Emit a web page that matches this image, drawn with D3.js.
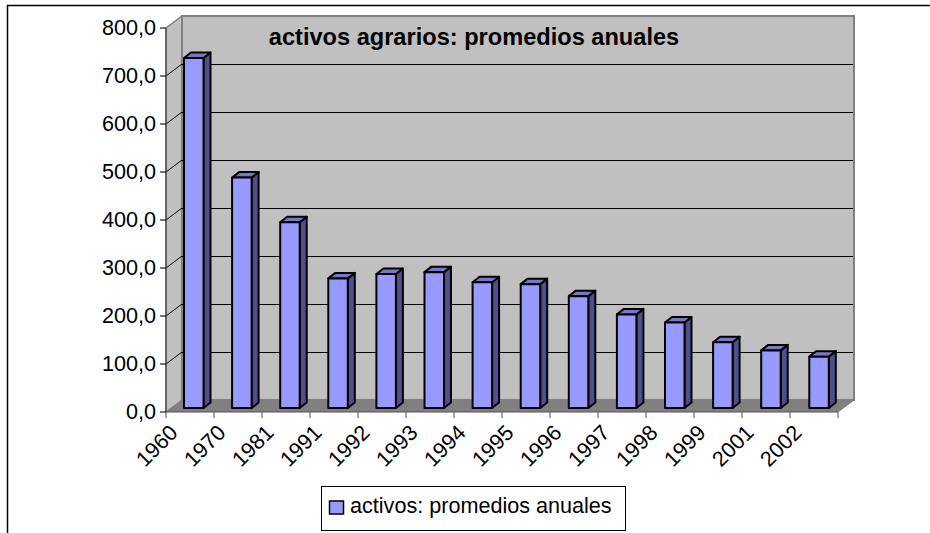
<!DOCTYPE html>
<html>
<head>
<meta charset="utf-8">
<script src="https://cdn.jsdelivr.net/npm/d3@7"></script>
<style>
  html, body { margin: 0; padding: 0; background: #fff; }
  svg { display: block; }
  text { font-family: "Liberation Sans", Arial, sans-serif; fill: #000; }
</style>
</head>
<body>
<div id="chart"></div>
<script>
const years = ['1960', '1970', '1981', '1991', '1992', '1993', '1994', '1995', '1996', '1997', '1998', '1999', '2001', '2002']
const activos = [729, 480, 387, 270, 279, 283, 262, 258, 233, 195, 178, 137, 120, 107]
const yTicks = [0, 100, 200, 300, 400, 500, 600, 700, 800]
const titleText = 'activos agrarios: promedios anuales'
const legendText = 'activos: promedios anuales'

const width = 930
const height = 533
const depthX = 16
const depthY = 12

const svg = d3.select('#chart').append('svg')
    .attr('width', width)
    .attr('height', height)

const x = d3.scaleBand().domain(years).range([166, 838])
// bars sit on the middle of the floor, a bit further apart than the ticks
const xBar = d3.scaleBand().domain(years).range([184, 857.4])
const y = d3.scaleLinear().domain([0, 800]).range([412, 28])

const poly = pts => pts.map(p => p.join(',')).join(' ')
const x0 = x.range()[0], x1 = x.range()[1]
const y0 = y(0), yTop = y(800)

// outer frame, only top and left are inside the picture
svg.append('path')
    .attr('d', `M7.5,${height}V5.5H${width}`)
    .attr('fill', 'none')
    .attr('stroke', '#000')
    .attr('stroke-width', 1.5)

// walls and floor
svg.append('polygon')
    .attr('points', poly([[x0, y0], [x0 + depthX, y0 - depthY], [x0 + depthX, yTop - depthY], [x0, yTop]]))
    .attr('fill', '#c0c0c0').attr('stroke', '#808080').attr('stroke-width', 1.5)
svg.append('rect')
    .attr('x', x0 + depthX).attr('y', yTop - depthY)
    .attr('width', x1 - x0).attr('height', y0 - yTop)
    .attr('fill', '#c0c0c0').attr('stroke', '#808080').attr('stroke-width', 2)
svg.append('polygon')
    .attr('points', poly([[x0, y0], [x1, y0], [x1 + depthX, y0 - depthY], [x0 + depthX, y0 - depthY]]))
    .attr('fill', '#808080')

// gridlines
yTicks.slice(1, -1).forEach(t => {
    svg.append('line')
        .attr('x1', x0 + depthX).attr('x2', x1 + depthX - 1)
        .attr('y1', y(t) - depthY + 0.5).attr('y2', y(t) - depthY + 0.5)
        .attr('stroke', '#000').attr('stroke-width', 1)
})
yTicks.slice(1, -1).forEach(t => {
    svg.append('line')
        .attr('x1', x0).attr('x2', x0 + depthX)
        .attr('y1', y(t)).attr('y2', y(t) - depthY)
        .attr('stroke', '#000').attr('stroke-width', 1)
})

// axes
svg.append('line').attr('x1', x0).attr('x2', x0).attr('y1', yTop).attr('y2', y0)
    .attr('stroke', '#444').attr('stroke-width', 1.2)
svg.append('line').attr('x1', x0).attr('x2', x1).attr('y1', y0).attr('y2', y0)
    .attr('stroke', '#555').attr('stroke-width', 1.2)
svg.append('line').attr('x1', x1).attr('x2', x1 + depthX).attr('y1', y0).attr('y2', y0 - depthY)
    .attr('stroke', '#808080').attr('stroke-width', 1)

svg.selectAll('.ytick').data(yTicks).join('line')
    .attr('class', 'ytick')
    .attr('x1', x0 - 6).attr('x2', x0)
    .attr('y1', d => y(d)).attr('y2', d => y(d))
    .attr('stroke', '#222').attr('stroke-width', 1.2)
svg.selectAll('.ylabel').data(yTicks).join('text')
    .attr('class', 'ylabel')
    .attr('x', x0 - 10)
    .attr('y', d => y(d) + 7)
    .attr('text-anchor', 'end')
    .attr('font-size', 21.6)
    .text(d => d3.format('.1f')(d).replace('.', ','))

const tickXs = years.map(d => x(d)).concat([x1])
svg.selectAll('.xtick').data(tickXs).join('line')
    .attr('class', 'xtick')
    .attr('x1', d => d).attr('x2', d => d)
    .attr('y1', y0).attr('y2', y0 + 6)
    .attr('stroke', '#666').attr('stroke-width', 1.2)

svg.selectAll('.xlabel').data(years).join('text')
    .attr('class', 'xlabel')
    .attr('text-anchor', 'end')
    .attr('font-size', 21.6)
    .attr('transform', d => `translate(${x(d) + 13},${y0 + 22}) rotate(-45)`)
    .text(d => d)

// bars: front face, top, side
const barW = 19.5, barDx = 7, barDy = 5.5, shiftY = 4
const bars = svg.selectAll('.bar').data(years.map((d, i) => ({ year: d, v: activos[i] }))).join('g')
    .attr('class', 'bar')
    .attr('stroke', '#000')
    .attr('stroke-width', 2)
    .attr('stroke-linejoin', 'round')
bars.append('polygon')
    .attr('fill', '#4f4f8c')
    .attr('points', d => {
        const l = xBar(d.year) + barW, t = y(d.v) - shiftY, b = y0 - shiftY
        return poly([[l, t], [l + barDx, t - barDy], [l + barDx, b - barDy], [l, b]])
    })
bars.append('polygon')
    .attr('fill', '#7878c8')
    .attr('points', d => {
        const l = xBar(d.year), t = y(d.v) - shiftY
        return poly([[l, t], [l + barDx, t - barDy], [l + barW + barDx, t - barDy], [l + barW, t]])
    })
bars.append('rect')
    .attr('fill', '#9999ff')
    .attr('x', d => xBar(d.year))
    .attr('y', d => y(d.v) - shiftY)
    .attr('width', barW)
    .attr('height', d => y0 - y(d.v))

// title
svg.append('text')
    .attr('x', 474).attr('y', 45)
    .attr('text-anchor', 'middle')
    .attr('font-size', 23.6)
    .attr('font-weight', 'bold')
    .text(titleText)

// legend
svg.append('rect')
    .attr('x', 321.5).attr('y', 486.5).attr('width', 304).attr('height', 44)
    .attr('fill', '#fff').attr('stroke', '#000').attr('stroke-width', 1)
svg.append('rect')
    .attr('x', 329.5).attr('y', 501).attr('width', 14).attr('height', 13)
    .attr('fill', '#9999ff').attr('stroke', '#000').attr('stroke-width', 1.5)
svg.append('text')
    .attr('x', 350).attr('y', 513)
    .attr('font-size', 21.6)
    .text(legendText)
</script>
</body>
</html>
